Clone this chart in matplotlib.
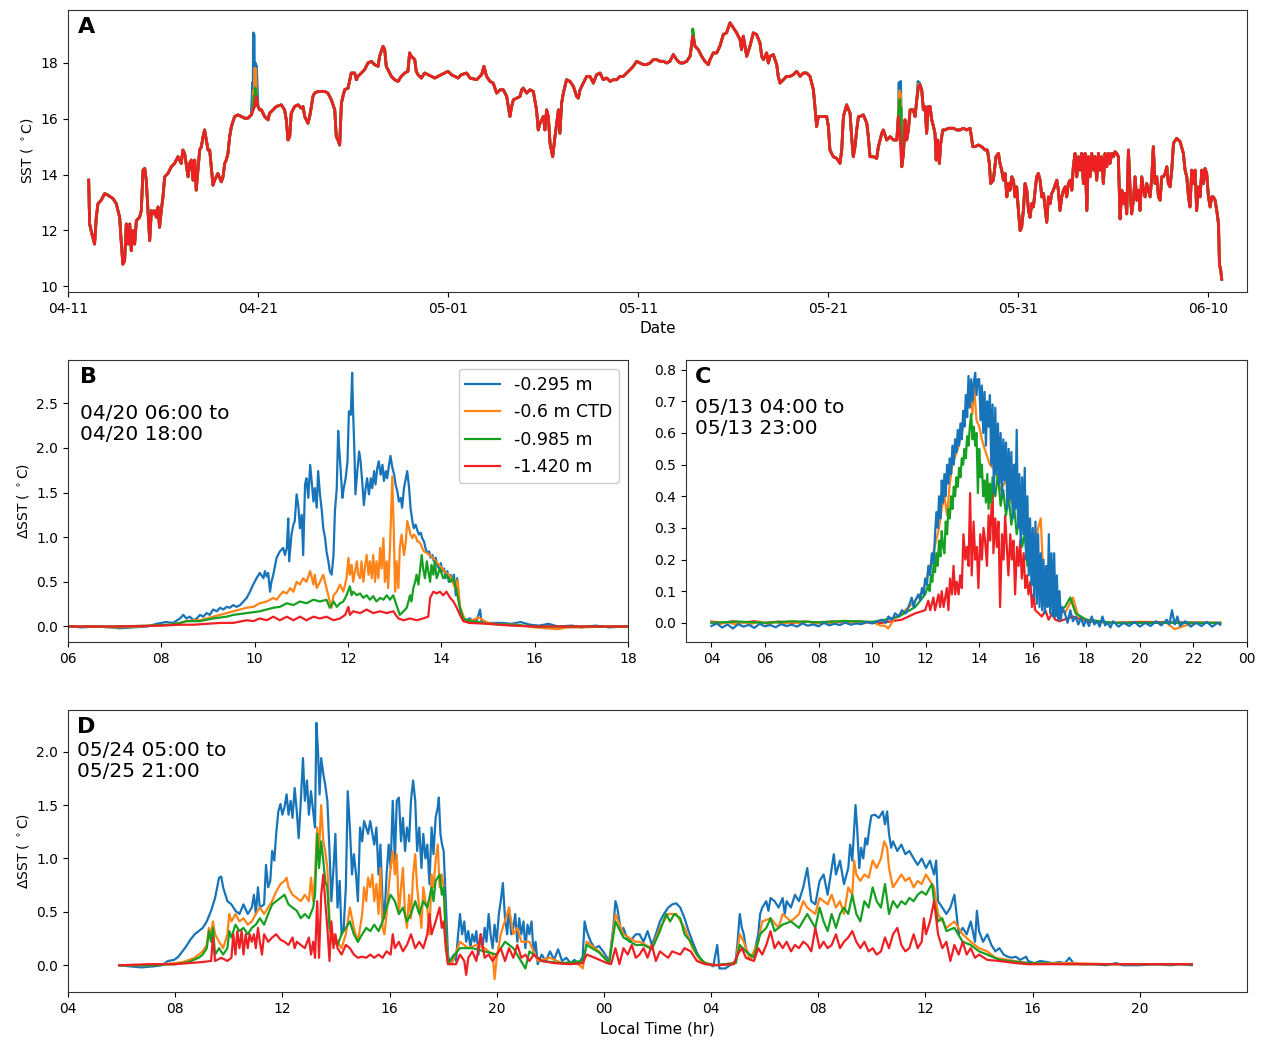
import numpy as np
import matplotlib
matplotlib.use("Agg")
import matplotlib.pyplot as plt

plt.rcParams['font.family'] = ['DejaVu Sans']

# ---------------- data ----------------
series_labels = ["-0.295 m", "-0.6 m CTD", "-0.985 m", "-1.420 m"]
colors = ["#1874b8", "#ff8418", "#16a021", "#ee2024"]

# Panel A: SST (deg C) vs days since 04-11
a_tick_days = [0, 10, 20, 30, 40, 50, 60]
a_tick_labels = ["04-11", "04-21", "05-01", "05-11", "05-21", "05-31", "06-10"]
a_red = [(1.09,13.80),(1.14,12.23),(1.26,11.87),(1.40,11.51),(1.49,12.47),(1.58,12.96),(1.75,13.08),(1.93,13.32),(2.11,13.26),(2.37,13.14),(2.54,12.96),(2.72,12.47),(2.81,11.51),(2.89,10.79),(2.98,10.91),(3.07,12.23),(3.16,11.51),(3.25,12.23),(3.33,11.27),(3.42,11.99),(3.51,11.51),(3.60,12.35),(3.77,12.47),(3.86,12.71),(3.95,14.16),(4.04,14.22),(4.12,13.80),(4.21,12.71),(4.30,11.63),(4.39,12.71),(4.47,12.59),(4.56,12.71),(4.65,12.47),(4.74,12.84),(4.82,12.11),(4.91,12.71),(5.00,13.20),(5.09,13.92),(5.26,14.04),(5.44,14.28),(5.61,14.40),(5.79,14.64),(5.96,14.40),(6.05,14.88),(6.14,14.76),(6.32,13.92),(6.40,14.40),(6.49,14.52),(6.58,13.80),(6.67,14.52),(6.75,13.44),(6.84,14.16),(6.93,14.88),(7.02,15.00),(7.11,15.36),(7.19,15.60),(7.28,15.24),(7.37,14.88),(7.46,14.88),(7.54,14.28),(7.63,13.62),(7.72,13.80),(7.89,14.04),(8.07,13.74),(8.16,13.92),(8.25,14.40),(8.33,14.52),(8.42,14.76),(8.51,15.36),(8.60,15.72),(8.77,16.08),(8.95,16.14),(9.12,16.08),(9.30,16.02),(9.47,16.02),(9.65,16.14),(9.74,16.32),(9.82,16.44),(9.91,16.80),(10.00,16.44),(10.09,16.32),(10.18,16.32),(10.35,16.08),(10.53,15.96),(10.61,16.20),(10.79,16.32),(10.96,16.44),(11.23,16.50),(11.40,16.32),(11.49,15.96),(11.58,15.24),(11.67,15.36),(11.75,16.20),(11.93,16.44),(12.11,16.50),(12.28,16.38),(12.37,16.44),(12.46,16.08),(12.63,15.84),(12.72,16.08),(12.81,16.44),(12.89,16.80),(12.98,16.92),(13.16,16.98),(13.33,16.98),(13.51,16.98),(13.68,16.92),(13.86,16.68),(14.04,16.32),(14.12,15.36),(14.21,15.24),(14.30,15.06),(14.39,16.56),(14.47,16.80),(14.56,17.04),(14.74,17.10),(14.91,17.64),(15.09,17.64),(15.18,17.40),(15.26,17.52),(15.44,17.64),(15.61,17.76),(15.79,18.00),(15.96,18.06),(16.14,17.94),(16.32,17.88),(16.40,18.24),(16.58,18.60),(16.67,18.48),(16.75,17.88),(16.84,17.76),(17.02,17.52),(17.19,17.40),(17.37,17.34),(17.54,17.52),(17.72,17.64),(17.89,17.70),(17.98,18.36),(18.07,18.24),(18.25,18.12),(18.33,17.70),(18.42,17.58),(18.60,17.46),(18.77,17.64),(18.95,17.58),(19.12,17.52),(19.30,17.46),(19.47,17.52),(19.65,17.58),(19.82,17.64),(20.00,17.70),(20.18,17.58),(20.35,17.52),(20.53,17.46),(20.70,17.58),
(20.98,17.64),(21.16,17.46),(21.51,17.40),(21.77,17.58),(21.89,17.88),(22.03,17.52),(22.21,17.34),(22.38,17.28),(22.56,16.92),(22.74,17.04),(22.91,17.04),(23.09,16.80),(23.26,16.08),(23.35,16.44),(23.44,16.68),(23.61,16.74),(23.79,16.80),(23.88,17.04),(23.96,17.10),(24.14,16.92),(24.31,17.04),(24.49,16.98),(24.66,16.32),(24.75,15.60),(24.84,15.84),(25.02,16.08),(25.10,15.60),(25.19,16.32),(25.28,16.08),(25.37,15.12),(25.51,14.64),(25.63,15.36),(25.72,15.84),(25.81,16.32),(25.89,15.48),(25.98,16.56),(26.07,16.92),(26.24,17.40),(26.42,17.34),(26.60,17.16),(26.77,16.80),(26.86,16.74),(26.95,17.04),(27.12,17.28),(27.30,17.52),(27.47,17.52),(27.65,17.28),(27.82,17.58),(28.00,17.64),(28.17,17.40),(28.35,17.46),(28.53,17.34),(28.70,17.40),(28.88,17.40),(29.05,17.52),(29.23,17.52),(29.40,17.64),(29.58,17.76),(29.75,17.88),(29.93,18.06),(30.10,18.00),(30.28,17.94),(30.45,17.94),(30.63,18.00),(30.81,18.12),(30.98,18.12),(31.16,18.06),(31.33,18.06),(31.51,18.00),(31.68,18.06),(31.86,18.30),(32.03,18.12),(32.21,18.00),(32.38,18.00),(32.56,18.06),(32.74,18.24),(32.88,18.96),(33.00,18.60),(33.17,18.48),(33.35,18.24),(33.52,18.06),(33.70,17.94),(33.79,18.12),(33.96,18.36),(34.14,18.36),(34.31,18.60),(34.49,19.02),(34.66,19.08),(34.84,19.44),(35.02,19.26),(35.19,19.08),(35.37,18.84),(35.45,18.48),(35.54,18.96),(35.72,18.24),(35.89,18.60),(36.07,19.08),(36.24,19.02),(36.42,18.72),(36.51,18.24),(36.60,18.12),(36.77,18.36),(36.86,18.00),(36.95,18.24),(37.12,18.30),(37.30,17.94),(37.38,17.52),(37.47,17.28),(37.65,17.40),(37.82,17.52),(38.00,17.52),(38.17,17.58),(38.35,17.70),(38.53,17.52),(38.70,17.64),(38.88,17.64),(39.05,17.52),(39.23,17.04),(39.31,16.44),(39.40,15.72),(39.49,16.08),(39.67,16.08),(39.84,16.08),(39.93,16.08),(40.02,15.72),(40.10,14.88),(40.28,14.64),(40.46,14.58),(40.63,14.40),(40.72,14.88),(40.81,16.08),(40.98,16.50),(41.16,16.20),(41.24,15.36),(41.33,14.64),(41.42,15.00),(41.51,15.60),(41.60,16.08),
(41.69,16.08),(41.86,16.14),(42.04,15.84),(42.12,15.36),(42.21,14.64),(42.39,14.64),(42.56,14.58),(42.65,15.00),(42.83,15.48),(42.91,15.60),(43.09,15.24),(43.27,15.36),(43.44,15.24),(43.62,15.24),(43.70,16.08),(43.79,15.36),(43.88,14.28),(43.97,14.76),(44.05,15.96),(44.14,15.24),(44.23,15.60),(44.32,16.32),(44.49,16.32),(44.58,16.08),(44.67,16.68),(44.76,17.16),(44.84,17.22),(44.93,17.04),(45.02,16.32),(45.11,16.44),(45.19,15.48),(45.28,16.44),(45.37,16.44),(45.46,15.96),(45.55,15.72),(45.63,15.48),(45.69,14.52),(45.76,15.24),(45.86,14.40),(45.93,15.12),(46.04,15.60),(46.16,15.60),(46.34,15.66),(46.60,15.66),(46.77,15.60),(46.95,15.60),(47.12,15.66),(47.30,15.60),(47.48,15.66),(47.62,15.00),(47.74,15.00),(47.91,15.06),(48.09,15.00),(48.27,14.88),(48.39,14.88),(48.49,14.40),(48.56,13.68),(48.70,13.80),(48.84,14.64),(48.97,14.76),(49.05,14.40),(49.14,14.16),(49.23,13.80),(49.32,14.04),(49.41,13.20),(49.49,13.68),(49.58,13.44),(49.67,13.92),(49.76,13.80),(49.84,13.20),(49.93,13.56),(50.02,12.71),(50.11,11.99),(50.19,12.11),(50.28,12.71),(50.37,13.68),(50.46,13.44),(50.55,12.71),(50.63,12.47),(50.72,12.96),(50.81,12.84),(50.90,13.44),(50.98,13.92),(51.07,14.04),(51.16,13.80),(51.25,13.20),(51.34,13.32),(51.42,12.84),(51.51,12.29),(51.60,13.20),(51.69,12.96),(51.77,13.32),(51.86,13.44),(51.95,13.62),(52.04,13.80),(52.12,13.44),(52.21,12.71),(52.30,13.20),(52.39,13.44),(52.48,13.56),(52.56,13.20),(52.65,13.68),(52.74,13.80),(52.83,13.44),(52.91,14.28),(53.00,14.76),(53.09,13.92),(53.18,14.64),(53.27,14.16),(53.35,14.76),(53.44,13.68),(53.53,14.76),(53.62,12.71),(53.70,14.64),(53.79,13.92),(53.88,14.76),(53.97,14.16),(54.05,14.64),(54.14,13.80),(54.23,14.76),(54.32,14.16),(54.40,14.64),(54.49,13.68),(54.58,14.76),(54.67,14.28),(54.76,14.76),(54.84,14.40),(54.93,14.76),(55.02,14.64),(55.11,14.82),(55.19,14.76),(55.28,14.64),(55.37,12.41),(55.46,13.44),(55.55,12.96),(55.63,13.32),(55.72,12.59),(55.81,14.88),(55.90,13.44),(55.98,12.59),(56.07,13.08),(56.16,13.92),(56.25,13.08),(56.34,13.44),(56.42,12.71),(56.51,13.92),(56.60,13.44),(56.69,13.20),(56.77,13.68),(56.86,13.44),(56.95,13.20),(57.04,13.92),(57.12,15.00),(57.21,13.68),(57.30,13.92),(57.39,13.20),(57.48,13.08),(57.56,13.92),(57.65,13.92),(57.74,14.04),(57.83,14.28),(57.91,13.68),(58.00,13.56),(58.09,14.16),(58.18,15.12),(58.35,15.30),(58.53,15.18),(58.70,14.76),(58.79,14.16),(58.88,13.92),(58.97,13.20),(59.05,12.84),(59.14,14.16),(59.23,13.68),(59.32,14.16),(59.40,12.71),(59.49,13.56),(59.58,13.20),(59.67,14.16),(59.76,13.68),(59.84,14.22),(59.93,14.04),(60.02,13.20),(60.11,12.84),(60.19,13.20),(60.28,13.20),(60.37,13.08),(60.46,12.71),(60.55,12.23),(60.60,10.79),(60.67,10.55),(60.72,10.25)]
# readings where the shallower sensors rise above the -1.420 m record
a_blue_extra = [(9.72,17.30),(9.76,19.08),(9.80,19.00),(9.86,18.00),(9.92,17.90),(43.74,17.30),(43.82,17.34),(44.74,17.34),(44.80,17.30)]
a_orange_extra = [(9.76,17.00),(9.82,17.80),(9.88,17.80),(43.76,17.00),(43.82,16.90),(44.76,17.25)]
a_green_extra = [(9.80,16.80),(9.86,17.10),(32.88,19.22),(43.78,16.70),(43.84,16.40),(44.78,17.20)]

# Panel B: dSST vs local hour, 04/20
b_blue = [(6.05,0.0),(6.3,-0.01),(6.6,0.0),(6.9,-0.01),(7.1,-0.02),(7.4,-0.01),(7.7,0.0),(7.9,0.03),(8.1,0.05),(8.25,0.04),(8.40,0.09),(8.47,0.13),(8.54,0.09),(8.61,0.11),(8.69,0.07),(8.76,0.09),(8.83,0.13),(8.90,0.11),(8.97,0.15),(9.04,0.13),(9.11,0.19),(9.19,0.17),(9.26,0.21),(9.33,0.19),(9.40,0.22),(9.47,0.21),(9.54,0.24),(9.61,0.22),(9.69,0.24),(9.76,0.28),(9.83,0.32),(9.90,0.39),(9.97,0.47),(10.04,0.54),(10.11,0.60),(10.19,0.54),(10.22,0.62),(10.26,0.56),(10.29,0.60),(10.33,0.39),(10.36,0.50),(10.40,0.58),(10.47,0.77),(10.54,0.84),(10.61,0.88),(10.65,0.80),(10.69,0.88),(10.72,1.21),(10.74,0.73),(10.79,1.03),(10.83,1.14),(10.86,1.18),(10.90,1.48),(10.94,1.33),(10.97,1.10),(11.01,1.25),(11.04,0.80),(11.08,1.59),(11.11,1.66),(11.15,1.44),(11.19,1.81),(11.22,1.63),(11.26,1.40),(11.29,1.55),(11.33,1.33),(11.36,1.74),(11.40,1.48),(11.44,1.29),(11.47,1.10),(11.51,0.99),(11.54,0.84),(11.58,0.73),(11.61,0.62),(11.65,0.58),(11.69,0.80),(11.72,1.29),(11.76,1.55),(11.79,2.19),(11.81,2.00),(11.84,1.78),(11.88,1.44),(11.91,1.55),(11.95,1.66),(11.99,1.85),(12.02,2.41),(12.06,2.37),(12.09,2.84),(12.11,2.41),(12.14,1.92),(12.16,1.48),(12.20,1.74),(12.24,1.96),(12.27,1.85),(12.31,1.59),(12.34,1.36),(12.38,1.55),(12.41,1.66),(12.45,1.48),(12.49,1.66),(12.52,1.55),(12.56,1.74),(12.59,1.59),(12.63,1.78),(12.66,1.85),(12.70,1.70),(12.74,1.81),(12.77,1.63),(12.81,1.74),(12.84,1.66),(12.88,1.81),(12.91,1.91),(12.95,1.78),(12.99,1.70),(13.02,1.59),(13.06,1.51),(13.09,1.40),(13.13,1.44),(13.16,1.33),(13.20,1.55),(13.24,1.66),(13.27,1.74),(13.31,1.55),(13.34,1.33),(13.38,1.18),(13.41,1.10),(13.45,1.14),(13.49,1.07),(13.52,1.03),(13.56,1.05),(13.59,0.99),(13.63,0.95),(13.66,0.88),(13.70,0.82),(13.74,0.84),(13.77,0.77),(13.81,0.80),(13.84,0.73),(13.88,0.77),(13.91,0.69),(13.95,0.65),(13.99,0.71),(14.02,0.62),(14.06,0.65),(14.09,0.54),(14.13,0.62),(14.16,0.50),(14.20,0.58),(14.24,0.50),(14.27,0.58),(14.31,0.35),(14.34,0.54),(14.38,0.28),(14.41,0.17),(14.47,0.09),(14.54,0.07),(14.61,0.09),(14.69,0.06),(14.76,0.07),(14.83,0.19),(14.86,0.06),(14.97,0.04),(15.11,0.04),(15.3,0.04),(15.5,0.03),(15.7,0.05),(15.9,0.02),(16.1,0.01),(16.3,0.03),(16.5,0.0),(16.8,0.01),(17.0,-0.01),(17.3,0.01),(17.6,-0.01),(17.9,0.0),(18.0,0.0)]
b_orange = [(6.05,0.0),(6.5,0.0),(7.0,-0.01),(7.5,0.0),(7.9,0.01),(8.2,0.02),(8.40,0.04),(8.54,0.06),(8.69,0.07),(8.83,0.07),(8.97,0.09),(9.11,0.11),(9.26,0.13),(9.40,0.15),(9.54,0.17),(9.69,0.19),(9.83,0.21),(9.97,0.22),(10.11,0.26),(10.26,0.28),(10.40,0.32),(10.47,0.30),(10.54,0.35),(10.61,0.39),(10.69,0.37),(10.76,0.43),(10.83,0.39),(10.90,0.50),(10.97,0.47),(11.04,0.54),(11.11,0.50),(11.19,0.62),(11.26,0.47),(11.29,0.58),(11.33,0.43),(11.40,0.50),(11.47,0.58),(11.54,0.43),(11.61,0.28),(11.65,0.21),(11.69,0.35),(11.76,0.39),(11.83,0.47),(11.90,0.39),(11.97,0.54),(12.01,0.77),(12.04,0.58),(12.08,0.69),(12.11,0.50),(12.19,0.73),(12.22,0.58),(12.26,0.54),(12.29,0.73),(12.33,0.50),(12.36,0.65),(12.40,0.80),(12.44,0.58),(12.47,0.73),(12.51,0.54),(12.54,0.80),(12.58,0.50),(12.61,0.73),(12.65,0.54),(12.69,0.88),(12.72,0.65),(12.76,0.99),(12.79,0.50),(12.83,0.73),(12.86,0.43),(12.90,0.88),(12.95,1.68),(12.98,1.10),(13.01,0.39),(13.04,0.73),(13.08,0.43),(13.11,0.88),(13.15,1.03),(13.20,0.80),(13.24,0.95),(13.27,1.18),(13.31,1.10),(13.34,1.03),(13.38,0.99),(13.41,1.03),(13.45,1.01),(13.49,0.95),(13.52,0.95),(13.56,0.92),(13.59,0.88),(13.63,0.84),(13.7,0.82),(13.8,0.78),(13.9,0.72),(14.0,0.66),(14.1,0.60),(14.2,0.56),(14.3,0.42),(14.35,0.52),(14.4,0.22),(14.5,0.08),(14.6,0.06),(14.8,0.10),(15.0,0.04),(15.3,0.02),(15.6,0.02),(16.0,-0.01),(16.5,-0.03),(16.7,-0.01),(17.0,-0.01),(17.5,0.0),(18.0,0.0)]
b_green = [(6.05,0.0),(7.0,0.0),(7.8,0.01),(8.2,0.02),(8.40,0.04),(8.54,0.06),(8.83,0.06),(9.11,0.09),(9.40,0.11),(9.54,0.13),(9.83,0.15),(10.11,0.17),(10.40,0.21),(10.54,0.22),(10.69,0.26),(10.83,0.24),(10.97,0.28),(11.11,0.26),(11.26,0.30),(11.40,0.28),(11.54,0.30),(11.61,0.21),(11.69,0.28),(11.76,0.22),(11.83,0.26),(11.90,0.28),(11.97,0.35),(12.04,0.45),(12.08,0.35),(12.11,0.39),(12.19,0.35),(12.26,0.37),(12.33,0.32),(12.40,0.35),(12.47,0.30),(12.54,0.34),(12.61,0.28),(12.69,0.32),(12.76,0.30),(12.83,0.35),(12.90,0.30),(12.97,0.35),(13.04,0.24),(13.11,0.13),(13.19,0.17),(13.26,0.21),(13.33,0.35),(13.36,0.28),(13.40,0.43),(13.44,0.50),(13.47,0.58),(13.51,0.47),(13.54,0.62),(13.58,0.80),(13.61,0.65),(13.65,0.54),(13.69,0.73),(13.72,0.62),(13.76,0.50),(13.79,0.69),(13.83,0.58),(13.86,0.73),(13.90,0.54),(13.97,0.65),(14.04,0.54),(14.11,0.58),(14.19,0.50),(14.26,0.54),(14.33,0.39),(14.40,0.21),(14.47,0.09),(14.6,0.06),(14.8,0.05),(15.0,0.03),(15.5,0.02),(16.0,0.0),(17.0,0.0),(18.0,0.0)]
b_red = [(6.05,0.0),(7.0,0.0),(8.0,0.01),(8.40,0.02),(8.69,0.02),(8.97,0.03),(9.26,0.04),(9.54,0.04),(9.83,0.07),(9.97,0.06),(10.11,0.09),(10.26,0.07),(10.40,0.11),(10.54,0.07),(10.69,0.11),(10.83,0.07),(10.97,0.11),(11.11,0.07),(11.26,0.11),(11.40,0.09),(11.54,0.11),(11.69,0.07),(11.83,0.09),(11.94,0.13),(12.01,0.22),(12.04,0.13),(12.11,0.17),(12.26,0.15),(12.40,0.19),(12.54,0.15),(12.69,0.17),(12.83,0.15),(12.97,0.17),(13.08,0.09),(13.19,0.07),(13.33,0.09),(13.47,0.07),(13.61,0.09),(13.72,0.11),(13.76,0.32),(13.83,0.39),(13.90,0.37),(13.97,0.39),(14.04,0.35),(14.11,0.39),(14.19,0.32),(14.26,0.28),(14.33,0.21),(14.40,0.13),(14.47,0.06),(14.6,0.04),(15.0,0.03),(15.5,0.01),(16.0,0.0),(18.0,0.0)]

# Panel C: dSST vs local hour, 05/13
c_blue = [(4.0,-.010),(4.2,-.002),(4.4,-.015),(4.6,-.005),(4.8,-.018),(5.0,-.004),(5.2,-.012),(5.4,-.006),(5.6,-.016),(5.8,-.003),(6.0,-.011),(6.2,-.007),(6.4,-.014),(6.6,-.004),(6.8,-.010),(7.0,-.006),(7.2,-.012),(7.4,-.002),(7.6,-.009),(7.8,-.005),(8.0,-.011),(8.2,.000),(8.4,-.008),(8.6,-.003),(8.8,-.007),(9.0,.001),(9.2,-.006),(9.4,-.002),(9.6,-.004),(9.8,.003),(10.0,-.002),(10.2,.004),
(10.36,0.01),(10.5,0.0),(10.61,0.02),(10.75,0.01),(10.86,0.03),(11.0,0.02),(11.11,0.04),(11.25,0.03),(11.36,0.05),(11.48,0.08),(11.55,0.05),(11.61,0.07),(11.73,0.09),(11.80,0.07),(11.86,0.11),(11.93,0.09),(11.98,0.14),(12.05,0.12),(12.10,0.18),(12.17,0.15),(12.23,0.22),(12.30,0.19),(12.35,0.28),
(12.40,.35),(12.45,.30),(12.50,.40),(12.55,.33),(12.60,.45),(12.65,.38),(12.70,.47),(12.75,.40),(12.80,.50),(12.85,.44),(12.90,.52),(12.95,.47),(13.00,.56),(13.05,.50),(13.10,.58),(13.15,.54),(13.20,.61),(13.25,.56),(13.30,.63),(13.35,.58),(13.40,.67),(13.45,.62),(13.50,.72),(13.55,.65),(13.60,.78),(13.65,.68),(13.70,.77),(13.75,.70),(13.80,.76),(13.85,.79),(13.90,.72),(13.95,.77),
(14.00,.77),(14.05,.64),(14.10,.75),(14.15,.60),(14.20,.73),(14.25,.56),(14.30,.70),(14.35,.62),(14.40,.72),(14.45,.50),(14.50,.69),(14.55,.41),(14.60,.68),(14.65,.47),(14.70,.63),(14.75,.44),(14.80,.60),(14.85,.40),(14.90,.58),(14.95,.45),(15.00,.57),(15.05,.36),(15.10,.55),(15.15,.39),(15.20,.54),(15.25,.33),(15.30,.50),(15.35,.36),(15.40,.61),(15.45,.30),(15.50,.47),(15.55,.25),(15.60,.46),(15.65,.28),(15.70,.49),(15.75,.20),(15.80,.40),(15.85,.15),(15.90,.33),(15.95,.12),(16.00,.30),(16.05,.08),(16.10,.32),(16.15,.06),(16.20,.28),(16.25,.05),(16.30,.22),(16.35,.04),(16.40,.20),(16.45,.03),(16.50,.18),(16.55,.05),(16.60,.28),(16.65,.03),(16.70,.22),(16.75,.02),(16.80,.22),(16.85,.02),(16.90,.15),(16.95,.01),(17.00,.10),(17.05,.01),(17.10,.05),
(17.2,.03),(17.3,.0),(17.4,.04),(17.5,.005),(17.6,.02),(17.7,-.005),(17.8,.015),(17.9,-.01),(18.0,.01),(18.1,-.01),(18.2,.02),(18.3,-.005),(18.4,.005),(18.5,-.012),(18.6,.02),(18.7,-.008),(18.8,.0),(18.9,-.015),(19.0,.005),(19.2,-.012),(19.4,.0),(19.6,-.01),(19.8,.003),(20.0,-.012),(20.2,.0),(20.4,-.01),(20.6,.005),(20.8,-.008),(21.0,.01),(21.1,-.005),(21.2,.04),(21.3,-.005),(21.4,.02),(21.5,-.01),(21.7,.005),(21.9,-.012),(22.1,.0),(22.3,-.01),(22.5,.003),(22.7,-.012),(22.9,.0),(23.0,-.006)]
c_orange = [(4.0,0.003),(4.3,-0.004),(4.6,0.002),(4.9,-0.005),(5.2,0.003),(5.5,-0.003),(5.8,0.004),(6.1,-0.004),(6.4,0.002),(6.7,-0.003),(7.0,0.003),(7.3,-0.002),(7.6,0.004),(7.9,-0.003),(8.2,0.003),(8.5,-0.002),(8.8,0.005),(9.1,-0.002),(9.4,0.004),(9.7,-0.001),(10.0,0.003),(10.3,-0.008),(10.5,-0.01),(10.6,-0.018),(10.7,-0.005),(10.8,0.01),(11.1,0.03),(11.5,0.06),(11.9,0.10),(12.2,0.19),(12.5,0.30),(12.6,0.36),(12.7,0.40),(12.8,0.34),(12.9,0.44),(13.0,0.50),(13.2,0.55),(13.4,0.62),(13.5,0.66),(13.6,0.70),(13.7,0.72),(13.75,0.66),(13.8,0.75),(13.85,0.70),(13.9,0.64),(14.0,0.62),(14.1,0.58),(14.2,0.55),(14.4,0.50),(14.6,0.48),(14.8,0.42),(15.0,0.45),(15.2,0.38),(15.4,0.40),(15.6,0.33),(15.8,0.25),(16.0,0.18),(16.2,0.30),(16.3,0.33),(16.4,0.12),(16.6,0.10),(16.8,0.15),(17.0,0.05),(17.2,0.03),(17.5,0.08),(17.7,0.02),(18.0,0.01),(19.0,0.0),(20.0,0.0),(21.0,0.0),(21.3,-0.02),(22.0,0.0),(23.0,0.0)]
c_green = [(4.0,0.0),(5.0,0.004),(6.0,0.0),(7.0,0.005),(8.0,0.002),(9.0,0.006),(10.0,0.003),(10.5,0.01),(11.0,0.02),(11.61,0.05),(11.98,0.09),(12.1,0.12),(12.15,0.10),(12.2,0.15),(12.25,0.13),(12.3,0.19),(12.35,0.16),(12.4,0.22),(12.45,0.18),(12.5,0.26),(12.55,0.21),(12.6,0.29),(12.65,0.24),(12.7,0.22),(12.75,0.32),(12.8,0.28),(12.85,0.36),(12.9,0.33),(12.95,0.40),(13.0,0.36),(13.05,0.43),(13.1,0.40),(13.15,0.46),(13.2,0.43),(13.25,0.49),(13.3,0.46),(13.35,0.52),(13.4,0.50),(13.45,0.55),(13.5,0.52),(13.55,0.59),(13.6,0.56),(13.65,0.62),(13.7,0.66),(13.75,0.58),(13.8,0.62),(13.85,0.56),(13.9,0.60),(13.95,0.41),(14.0,0.55),(14.05,0.46),(14.1,0.50),(14.15,0.40),(14.2,0.45),(14.25,0.38),(14.3,0.47),(14.35,0.36),(14.4,0.44),(14.45,0.38),(14.5,0.46),(14.6,0.40),(14.7,0.47),(14.8,0.37),(14.9,0.42),(15.0,0.34),(15.1,0.40),(15.2,0.31),(15.3,0.37),(15.4,0.28),(15.5,0.34),(15.6,0.24),(15.7,0.28),(15.8,0.18),(15.9,0.22),(16.0,0.12),(16.2,0.12),(16.4,0.10),(16.6,0.08),(16.8,0.06),(17.0,0.04),(17.2,0.05),(17.4,0.08),(17.6,0.03),(18.0,0.01),(19.0,0.0),(23.0,0.0)]
c_red = [(4.0,0.004),(4.4,0.0),(4.8,0.005),(5.2,0.001),(5.6,0.005),(6.0,0.0),(6.5,0.004),(7.0,0.0),(7.5,0.004),(8.0,0.0),(8.5,0.004),(9.0,0.001),(9.5,0.005),(10.0,0.0),(10.36,0.0),(11.11,0.01),(11.61,0.03),(11.98,0.04),(12.10,0.07),(12.17,0.04),(12.29,0.08),(12.35,0.04),(12.48,0.09),(12.54,0.05),(12.60,0.10),(12.67,0.05),(12.79,0.11),(12.85,0.04),(12.91,0.14),(12.98,0.09),(13.04,0.18),(13.10,0.09),(13.16,0.13),(13.23,0.09),(13.29,0.15),(13.35,0.11),(13.41,0.28),(13.48,0.20),(13.54,0.24),(13.60,0.18),(13.66,0.41),(13.72,0.15),(13.79,0.32),(13.85,0.20),(13.91,0.24),(13.97,0.11),(14.04,0.28),(14.10,0.20),(14.16,0.30),(14.22,0.26),(14.29,0.18),(14.35,0.34),(14.41,0.26),(14.47,0.39),(14.50,0.43),(14.53,0.22),(14.60,0.33),(14.66,0.24),(14.72,0.32),(14.78,0.05),(14.85,0.28),(14.91,0.20),(14.97,0.34),(15.03,0.24),(15.09,0.15),(15.16,0.28),(15.22,0.20),(15.28,0.26),(15.34,0.09),(15.41,0.24),(15.47,0.18),(15.53,0.26),(15.59,0.14),(15.66,0.22),(15.72,0.11),(15.78,0.15),(15.84,0.09),(15.91,0.13),(15.97,0.05),(16.03,0.09),(16.09,0.04),(16.22,0.03),(16.34,0.02),(16.47,0.04),(16.59,0.01),(16.72,0.03),(16.84,0.01),(17.0,0.005),(17.5,0.02),(18.0,0.005),(19.0,0.0),(20.0,0.003),(23.0,0.0)]

# Panel D: dSST vs hours since 05/24 00:00
d_tick_hours = [4, 8, 12, 16, 20, 24, 28, 32, 36, 40, 44]
d_tick_labels = ["04", "08", "12", "16", "20", "00", "04", "08", "12", "16", "20"]
d_blue = [(5.91,0.0),(6.29,-0.01),(6.74,-0.02),(7.20,-0.01),(7.51,0.0),(7.73,0.04),(7.96,0.05),(8.12,0.08),(8.27,0.13),(8.42,0.18),(8.57,0.24),(8.73,0.29),(8.88,0.32),(9.03,0.35),(9.18,0.41),(9.34,0.51),(9.49,0.63),(9.64,0.82),(9.72,0.83),(9.79,0.73),(9.95,0.60),(10.10,0.57),(10.25,0.51),(10.40,0.48),(10.55,0.57),(10.71,0.48),(10.86,0.54),(10.94,0.66),(11.01,0.48),(11.09,0.73),(11.16,0.54),(11.32,0.57),(11.39,0.94),(11.47,0.73),(11.55,0.79),(11.62,1.07),(11.70,0.98),(11.77,1.23),(11.85,1.44),(11.93,1.51),(12.00,1.41),(12.08,1.48),(12.16,1.60),(12.23,1.41),(12.31,1.54),(12.38,1.38),(12.46,1.66),(12.54,1.44),(12.61,1.19),(12.69,1.54),(12.77,1.94),(12.84,1.54),(12.92,1.73),(12.99,1.41),(13.07,1.63),(13.15,1.44),(13.22,1.29),(13.27,2.27),(13.33,2.01),(13.39,1.60),(13.45,1.94),(13.53,1.79),(13.60,1.69),(13.68,1.54),(13.76,1.07),(13.83,0.60),(13.91,0.91),(13.98,1.23),(14.06,0.54),(14.14,0.79),(14.21,0.29),(14.29,0.35),(14.37,0.73),(14.44,1.63),(14.52,1.29),(14.60,0.85),(14.67,1.04),(14.75,0.85),(14.82,0.60),(14.90,1.29),(14.98,1.16),(15.05,1.35),(15.13,1.29),(15.20,1.23),(15.28,1.35),(15.36,1.23),(15.43,1.13),(15.51,1.29),(15.59,0.85),(15.66,1.13),(15.74,0.60),(15.81,0.44),(15.89,0.85),(15.97,1.13),(16.04,0.91),(16.12,1.54),(16.20,0.98),(16.27,1.54),(16.35,1.57),(16.43,1.16),(16.50,1.38),(16.58,1.07),(16.65,1.29),(16.73,1.16),(16.80,1.54),(16.88,1.73),(16.96,1.54),(17.03,1.07),(17.11,1.29),(17.19,0.91),(17.26,1.23),(17.34,1.00),(17.41,1.13),(17.49,0.76),(17.57,1.29),(17.64,1.04),(17.72,1.38),(17.80,1.48),(17.84,1.57),(17.90,1.23),(17.96,1.13),(18.02,1.07),(18.10,0.60),(18.18,0.10),(18.25,0.01),(18.33,0.07),(18.41,0.10),(18.48,0.04),(18.56,0.29),(18.63,0.48),(18.71,0.29),(18.79,0.41),(18.86,0.22),(18.94,0.32),(19.02,0.16),(19.09,0.29),(19.17,0.22),(19.24,0.32),(19.32,0.10),(19.40,0.29),(19.47,0.16),(19.55,0.35),(19.62,0.22),(19.70,0.48),(19.77,0.29),(19.85,0.16),(19.92,0.38),(20.00,0.22),(20.08,0.48),(20.15,0.60),(20.23,0.77),(20.31,0.44),(20.39,0.29),(20.46,0.54),(20.54,0.29),(20.62,0.35),(20.69,0.48),(20.77,0.22),(20.84,0.44),(20.92,0.29),(21.00,0.41),(21.07,0.16),(21.15,0.38),(21.22,0.29),(21.30,0.41),(21.38,0.10),(21.45,0.22),(21.53,0.01),(21.68,0.10),(21.83,0.04),(21.99,0.13),(22.14,0.05),(22.29,0.15),(22.44,0.04),(22.60,0.07),(22.75,0.02),(22.90,0.05),(23.05,0.01),(23.21,0.08),(23.28,0.41),(23.36,0.32),(23.51,0.22),(23.66,0.16),(23.82,0.18),(23.97,0.13),(24.12,0.07),(24.20,0.04),(24.35,0.35),(24.43,0.60),(24.50,0.54),(24.58,0.41),(24.66,0.29),(24.73,0.35),(24.81,0.29),(24.96,0.22),(25.19,0.29),(25.33,0.29),(25.48,0.22),(25.63,0.32),(25.79,0.19),(25.94,0.29),(26.09,0.41),(26.24,0.48),(26.40,0.54),(26.55,0.57),(26.70,0.58),(26.85,0.54),(27.01,0.44),(27.16,0.32),(27.31,0.22),(27.47,0.12),(27.62,0.05),(27.77,0.02),(27.92,0.01),(28.08,-0.01),(28.23,0.19),(28.31,-0.03),(28.53,-0.03),(28.76,0.01),(28.92,0.04),(28.99,0.22),(29.07,0.48),(29.15,0.35),(29.22,0.29),(29.30,0.16),(29.45,0.07),(29.60,0.10),(29.76,0.29),(29.83,0.48),(29.91,0.54),(30.06,0.60),(30.14,0.51),(30.22,0.63),(30.37,0.60),(30.52,0.54),(30.67,0.63),(30.75,0.48),(30.82,0.60),(30.98,0.54),(31.13,0.66),(31.28,0.60),(31.44,0.73),(31.59,0.91),(31.66,0.76),(31.74,0.60),(31.89,0.57),(32.05,0.79),(32.20,0.85),(32.35,0.66),(32.50,0.91),(32.58,1.04),(32.66,0.85),(32.81,0.98),(32.96,0.76),(33.12,0.91),(33.19,1.13),(33.27,0.98),(33.34,1.29),(33.39,1.50),(33.45,1.29),(33.53,0.91),(33.60,1.10),(33.68,1.00),(33.76,1.19),(33.83,1.13),(33.91,1.29),(33.98,1.40),(34.11,1.41),(34.26,1.38),(34.41,1.44),(34.49,1.32),(34.57,1.44),(34.64,1.23),(34.72,1.10),(34.79,1.16),(34.95,1.07),(35.10,1.13),(35.25,1.04),(35.40,1.07),(35.56,1.00),(35.71,0.94),(35.86,1.00),(36.02,0.91),(36.17,0.98),(36.32,0.85),(36.40,0.98),(36.47,0.60),(36.63,0.54),(36.78,0.48),(36.93,0.54),(37.08,0.66),(37.16,0.48),(37.24,0.29),(37.39,0.35),(37.54,0.29),(37.69,0.41),(37.85,0.22),(37.92,0.51),(38.00,0.32),(38.15,0.22),(38.31,0.29),(38.46,0.19),(38.61,0.13),(38.76,0.16),(38.92,0.10),(39.07,0.08),(39.22,0.07),(39.37,0.08),(39.53,0.05),(39.76,0.08),(39.83,0.04),(40.06,0.02),(40.29,0.04),(40.52,0.03),(40.76,0.02),(40.99,0.03),(41.21,0.02),(41.37,0.07),(41.52,0.02),(41.82,0.01),(42.28,0.01),(42.74,0.0),(43.12,0.02),(43.35,0.0),(43.96,0.0),(44.57,0.01),(45.18,0.0),(45.48,0.01),(45.94,0.0)]
d_orange = [(5.91,0.0),(6.5,0.0),(7.0,0.0),(7.5,0.01),(8.0,0.02),(8.3,0.03),(8.73,0.07),(9.03,0.13),(9.18,0.19),(9.26,0.35),(9.34,0.29),(9.41,0.41),(9.49,0.29),(9.64,0.22),(9.79,0.16),(9.95,0.29),(10.02,0.48),(10.10,0.41),(10.25,0.48),(10.40,0.41),(10.55,0.44),(10.71,0.38),(10.86,0.41),(11.01,0.48),(11.16,0.54),(11.32,0.48),(11.47,0.54),(11.62,0.60),(11.77,0.69),(11.93,0.76),(12.08,0.79),(12.16,0.82),(12.23,0.73),(12.38,0.66),(12.54,0.63),(12.69,0.60),(12.84,0.66),(12.99,0.60),(13.07,0.82),(13.15,0.60),(13.22,0.85),(13.30,1.29),(13.37,1.07),(13.45,1.50),(13.53,1.16),(13.60,1.07),(13.68,0.91),(13.76,0.44),(13.83,0.22),(13.91,0.29),(14.06,0.22),(14.21,0.16),(14.37,0.29),(14.52,0.54),(14.67,0.35),(14.82,0.22),(14.98,0.48),(15.05,0.73),(15.13,0.60),(15.20,0.82),(15.28,0.73),(15.36,0.85),(15.43,0.60),(15.51,0.76),(15.59,0.48),(15.66,0.91),(15.74,0.35),(15.81,0.29),(15.89,0.48),(15.97,0.73),(16.04,0.91),(16.12,1.07),(16.20,0.85),(16.27,1.04),(16.35,0.48),(16.43,0.73),(16.50,0.91),(16.58,0.48),(16.65,0.35),(16.73,0.66),(16.80,0.44),(16.88,0.85),(16.96,1.04),(17.03,0.73),(17.11,0.54),(17.19,0.35),(17.26,0.73),(17.34,0.60),(17.41,0.54),(17.49,0.29),(17.57,0.85),(17.64,0.73),(17.72,0.98),(17.80,1.13),(17.87,0.73),(17.95,0.85),(18.02,0.73),(18.10,0.29),(18.18,0.04),(18.33,0.02),(18.63,0.22),(18.94,0.16),(19.24,0.19),(19.55,0.16),(19.85,0.10),(19.92,-0.13),(20.00,0.07),(20.15,0.29),(20.46,0.54),(20.62,0.29),(20.77,0.35),(20.92,0.22),(21.22,0.22),(21.53,0.04),(21.99,0.07),(22.44,0.02),(23.05,0.01),(23.21,-0.03),(23.36,0.22),(23.82,0.13),(24.20,0.02),(24.43,0.48),(24.73,0.29),(25.19,0.22),(25.33,0.22),(25.79,0.16),(26.09,0.35),(26.40,0.48),(26.70,0.48),(27.01,0.35),(27.31,0.16),(27.62,0.04),(28.08,0.0),(28.92,0.02),(29.07,0.29),(29.22,0.22),(29.45,0.05),(29.76,0.22),(29.91,0.41),(30.22,0.44),(30.52,0.35),(30.67,0.48),(30.98,0.41),(31.28,0.48),(31.44,0.60),(31.59,0.54),(31.74,0.51),(31.89,0.48),(32.05,0.63),(32.20,0.60),(32.35,0.57),(32.50,0.66),(32.66,0.54),(32.81,0.60),(32.96,0.48),(33.12,0.73),(33.27,0.66),(33.34,0.98),(33.42,0.85),(33.57,0.79),(33.72,0.85),(33.88,0.82),(34.03,0.98),(34.18,0.91),(34.34,1.00),(34.46,1.16),(34.57,1.10),(34.64,0.91),(34.79,0.73),(34.95,0.79),(35.10,0.85),(35.25,0.79),(35.40,0.82),(35.56,0.73),(35.71,0.79),(35.86,0.76),(36.02,0.85),(36.17,0.79),(36.32,0.73),(36.47,0.48),(36.78,0.35),(37.08,0.41),(37.39,0.29),(37.69,0.22),(38.00,0.16),(38.31,0.13),(38.61,0.07),(39.07,0.05),(39.83,0.02),(41.37,0.02),(42.89,0.01),(44.42,0.01),(45.94,0.01)]
d_green = [(5.91,0.0),(7.0,0.0),(7.5,0.005),(8.0,0.01),(8.5,0.03),(8.88,0.07),(9.03,0.10),(9.18,0.16),(9.26,0.32),(9.34,0.22),(9.41,0.35),(9.49,0.10),(9.64,0.16),(9.79,0.10),(9.95,0.16),(10.02,0.32),(10.10,0.26),(10.25,0.38),(10.40,0.32),(10.55,0.35),(10.71,0.29),(10.86,0.35),(11.01,0.38),(11.16,0.44),(11.32,0.38),(11.47,0.48),(11.62,0.57),(11.77,0.60),(11.93,0.63),(12.08,0.66),(12.23,0.57),(12.38,0.54),(12.54,0.51),(12.69,0.44),(12.84,0.48),(12.99,0.44),(13.15,0.54),(13.22,0.66),(13.30,1.23),(13.37,0.91),(13.45,1.16),(13.53,0.98),(13.60,0.79),(13.68,0.73),(13.76,0.35),(13.91,0.22),(14.06,0.19),(14.21,0.29),(14.37,0.35),(14.52,0.41),(14.67,0.29),(14.82,0.22),(14.98,0.29),(15.13,0.35),(15.28,0.32),(15.43,0.38),(15.59,0.32),(15.74,0.41),(15.89,0.54),(16.04,0.66),(16.20,0.60),(16.35,0.48),(16.50,0.54),(16.65,0.41),(16.80,0.48),(16.96,0.60),(17.11,0.48),(17.26,0.60),(17.41,0.54),(17.57,0.73),(17.64,0.60),(17.72,0.79),(17.87,0.85),(17.95,0.66),(18.02,0.73),(18.10,0.29),(18.18,0.02),(18.63,0.16),(19.09,0.16),(19.55,0.13),(20.00,0.10),(20.31,0.22),(20.62,0.16),(21.07,-0.03),(21.22,0.13),(21.68,0.04),(22.44,0.02),(23.21,0.04),(23.36,0.19),(23.82,0.12),(24.20,0.02),(24.43,0.41),(24.73,0.26),(25.19,0.19),(25.48,0.19),(25.79,0.15),(26.09,0.32),(26.32,0.48),(26.47,0.41),(26.63,0.48),(26.85,0.44),(27.01,0.29),(27.24,0.22),(27.47,0.10),(27.77,0.02),(28.08,0.0),(28.92,0.02),(29.07,0.19),(29.30,0.13),(29.60,0.07),(29.83,0.29),(30.06,0.35),(30.22,0.44),(30.37,0.32),(30.67,0.38),(30.98,0.41),(31.28,0.35),(31.59,0.48),(31.89,0.35),(32.05,0.54),(32.20,0.41),(32.35,0.32),(32.50,0.48),(32.66,0.35),(32.81,0.48),(32.96,0.54),(33.12,0.48),(33.27,0.66),(33.42,0.48),(33.57,0.41),(33.72,0.60),(33.88,0.54),(34.03,0.73),(34.18,0.60),(34.34,0.54),(34.49,0.76),(34.64,0.48),(34.79,0.60),(34.95,0.54),(35.10,0.60),(35.25,0.57),(35.40,0.63),(35.56,0.60),(35.71,0.66),(35.86,0.69),(36.02,0.66),(36.17,0.73),(36.25,0.76),(36.32,0.60),(36.47,0.41),(36.63,0.44),(36.78,0.32),(37.08,0.35),(37.39,0.22),(37.69,0.19),(38.00,0.13),(38.31,0.10),(38.76,0.05),(39.83,0.02),(41.37,0.01),(45.94,0.01)]
d_red = [(5.91,0.0),(6.5,0.005),(7.0,0.01),(7.5,0.01),(8.0,0.01),(8.5,0.02),(9.0,0.03),(9.34,0.04),(9.41,0.26),(9.49,0.04),(9.72,0.07),(9.95,0.04),(10.10,0.07),(10.17,0.29),(10.25,0.10),(10.32,0.32),(10.40,0.16),(10.48,0.32),(10.55,0.10),(10.63,0.29),(10.71,0.16),(10.78,0.29),(10.86,0.22),(10.94,0.29),(11.01,0.16),(11.09,0.35),(11.16,0.22),(11.24,0.10),(11.32,0.29),(11.47,0.22),(11.62,0.26),(11.77,0.29),(11.93,0.24),(12.08,0.22),(12.23,0.19),(12.38,0.26),(12.46,0.16),(12.54,0.22),(12.69,0.19),(12.84,0.16),(12.99,0.26),(13.07,0.10),(13.15,0.22),(13.22,0.07),(13.30,0.60),(13.37,0.07),(13.45,0.66),(13.53,0.85),(13.60,0.60),(13.68,0.35),(13.76,0.04),(13.83,0.41),(13.91,0.16),(13.98,0.29),(14.06,0.16),(14.21,0.10),(14.37,0.19),(14.52,0.16),(14.67,0.10),(14.82,0.07),(14.98,0.08),(15.13,0.07),(15.28,0.10),(15.43,0.07),(15.59,0.10),(15.74,0.07),(15.89,0.13),(16.04,0.10),(16.12,0.29),(16.20,0.16),(16.35,0.22),(16.50,0.13),(16.65,0.19),(16.80,0.29),(16.96,0.16),(17.11,0.22),(17.26,0.16),(17.41,0.29),(17.49,0.48),(17.57,0.29),(17.72,0.41),(17.87,0.54),(17.95,0.35),(18.02,0.41),(18.10,0.16),(18.18,0.01),(18.48,0.01),(18.63,0.10),(18.79,0.04),(18.86,-0.09),(18.94,0.07),(19.09,0.13),(19.24,0.04),(19.40,0.29),(19.55,0.07),(19.70,0.10),(19.85,0.04),(20.00,0.10),(20.15,0.16),(20.31,0.04),(20.46,0.16),(20.62,0.07),(20.77,0.19),(20.92,0.07),(21.07,0.10),(21.22,0.04),(21.38,0.10),(21.68,0.04),(22.14,0.02),(22.75,0.01),(23.21,0.02),(23.36,0.10),(23.66,0.07),(24.12,0.02),(24.27,0.01),(24.43,0.16),(24.58,0.01),(24.73,0.16),(24.89,0.10),(25.04,0.19),(25.19,0.07),(25.33,0.10),(25.48,0.16),(25.63,0.07),(25.79,0.19),(25.94,0.04),(26.09,0.13),(26.24,0.10),(26.40,0.07),(26.55,0.13),(26.85,0.10),(27.01,0.16),(27.24,0.13),(27.47,0.04),(27.77,0.01),(28.23,0.0),(28.84,0.01),(28.99,0.10),(29.15,0.16),(29.30,0.07),(29.60,0.04),(29.76,0.16),(29.91,0.10),(30.06,0.19),(30.22,0.32),(30.37,0.16),(30.52,0.22),(30.67,0.16),(30.82,0.22),(30.98,0.13),(31.13,0.19),(31.28,0.16),(31.44,0.22),(31.59,0.19),(31.74,0.13),(31.89,0.35),(32.05,0.16),(32.20,0.22),(32.35,0.16),(32.50,0.19),(32.66,0.29),(32.81,0.16),(32.96,0.22),(33.12,0.26),(33.27,0.32),(33.42,0.22),(33.57,0.16),(33.72,0.22),(33.88,0.13),(34.03,0.16),(34.18,0.10),(34.34,0.13),(34.49,0.26),(34.64,0.16),(34.79,0.29),(34.95,0.35),(35.10,0.19),(35.25,0.13),(35.40,0.16),(35.56,0.29),(35.71,0.16),(35.86,0.22),(35.94,0.44),(36.02,0.29),(36.17,0.41),(36.32,0.60),(36.40,0.44),(36.47,0.29),(36.63,0.16),(36.78,0.22),(36.93,0.04),(37.08,0.19),(37.24,0.10),(37.39,0.22),(37.54,0.10),(37.69,0.16),(37.85,0.07),(38.00,0.10),(38.31,0.05),(38.76,0.04),(39.37,0.02),(39.83,0.01),(41.37,0.01),(45.94,0.01)]

# ---------------- helpers ----------------
def unpack(pairs):
    arr = np.array(pairs, dtype=float)
    return arr[:, 0], arr[:, 1]

def merged(base, extra):
    bt, bv = unpack(base)
    et, ev = unpack(extra)
    t = np.concatenate([bt, et])
    v = np.concatenate([bv, ev])
    order = np.argsort(t, kind="stable")
    return t[order], v[order]

# ---------------- figure ----------------
fig = plt.figure(figsize=(12.61, 10.40), dpi=100)
axA = fig.add_axes([0.0539, 0.7192, 0.9350, 0.2712])
axB = fig.add_axes([0.0539, 0.3827, 0.4441, 0.2711])
axC = fig.add_axes([0.5440, 0.3827, 0.4449, 0.2711])
axD = fig.add_axes([0.0539, 0.0462, 0.9350, 0.2711])

tick_fs = 10
label_fs = 10

# Panel A
for extra, col in zip([a_blue_extra, a_orange_extra, a_green_extra], colors[:3]):
    t, v = merged(a_red, extra)
    axA.plot(t, v, color=col, lw=2.0)
t, v = unpack(a_red)
axA.plot(t, v, color=colors[3], lw=2.0)
axA.set_xlim(0, 62.05)
axA.set_xticks(a_tick_days)
axA.set_xticklabels(a_tick_labels)
axA.set_yticks([10, 12, 14, 16, 18])
axA.set_ylabel(r"SST ( $^\circ$C)", fontsize=label_fs)
axA.set_xlabel("Date", fontsize=label_fs + 1)
axA.text(0.0085, 0.975, "A", transform=axA.transAxes, fontsize=16,
         fontweight="bold", va="top", ha="left")

# Panel B
for data, col, lab in zip([b_blue, b_orange, b_green, b_red], colors, series_labels):
    t, v = unpack(data)
    axB.plot(t, v, color=col, lw=1.6, label=lab)
axB.set_xlim(6, 18)
axB.set_xticks([6, 8, 10, 12, 14, 16, 18])
axB.set_xticklabels(["06", "08", "10", "12", "14", "16", "18"])
axB.set_yticks([0.0, 0.5, 1.0, 1.5, 2.0, 2.5])
axB.set_ylabel(r"$\Delta$SST ( $^\circ$C)", fontsize=label_fs)
axB.text(0.021, 0.975, "B", transform=axB.transAxes, fontsize=16,
         fontweight="bold", va="top", ha="left")
axB.text(0.021, 0.845, "04/20 06:00 to\n04/20 18:00", transform=axB.transAxes,
         fontsize=14.5, va="top", ha="left", linespacing=1.15)
axB.legend(loc="upper right", fontsize=12.5, handlelength=2.0, framealpha=1.0,
           borderaxespad=0.5, labelspacing=0.55)

# Panel C
for data, col in zip([c_blue, c_orange, c_green, c_red], colors):
    t, v = unpack(data)
    axC.plot(t, v, color=col, lw=1.6)
axC.set_xticks(list(range(4, 25, 2)))
axC.set_xticklabels(["04", "06", "08", "10", "12", "14", "16", "18", "20", "22", "00"])
axC.set_yticks([0.0, 0.1, 0.2, 0.3, 0.4, 0.5, 0.6, 0.7, 0.8])
axC.text(0.016, 0.975, "C", transform=axC.transAxes, fontsize=16,
         fontweight="bold", va="top", ha="left")
axC.text(0.016, 0.865, "05/13 04:00 to\n05/13 23:00", transform=axC.transAxes,
         fontsize=14.5, va="top", ha="left", linespacing=1.15)
for ln, z in zip(axC.get_lines(), [4, 2, 3, 1]):
    ln.set_zorder(z)

# Panel D
for data, col in zip([d_blue, d_orange, d_green, d_red], colors):
    t, v = unpack(data)
    axD.plot(t, v, color=col, lw=1.6)
axD.set_xlim(4, 48)
axD.set_xticks(d_tick_hours)
axD.set_xticklabels(d_tick_labels)
axD.set_yticks([0.0, 0.5, 1.0, 1.5, 2.0])
axD.set_ylabel(r"$\Delta$SST ( $^\circ$C)", fontsize=label_fs)
axD.set_xlabel("Local Time (hr)", fontsize=label_fs + 1)
axD.text(0.0076, 0.975, "D", transform=axD.transAxes, fontsize=16,
         fontweight="bold", va="top", ha="left")
axD.text(0.0076, 0.89, "05/24 05:00 to\n05/25 21:00", transform=axD.transAxes,
         fontsize=14.5, va="top", ha="left", linespacing=1.15)

for ax in (axA, axB, axC, axD):
    ax.tick_params(labelsize=tick_fs)
    for s in ax.spines.values():
        s.set_color("#333333")

fig.savefig("out.png", dpi=100)
